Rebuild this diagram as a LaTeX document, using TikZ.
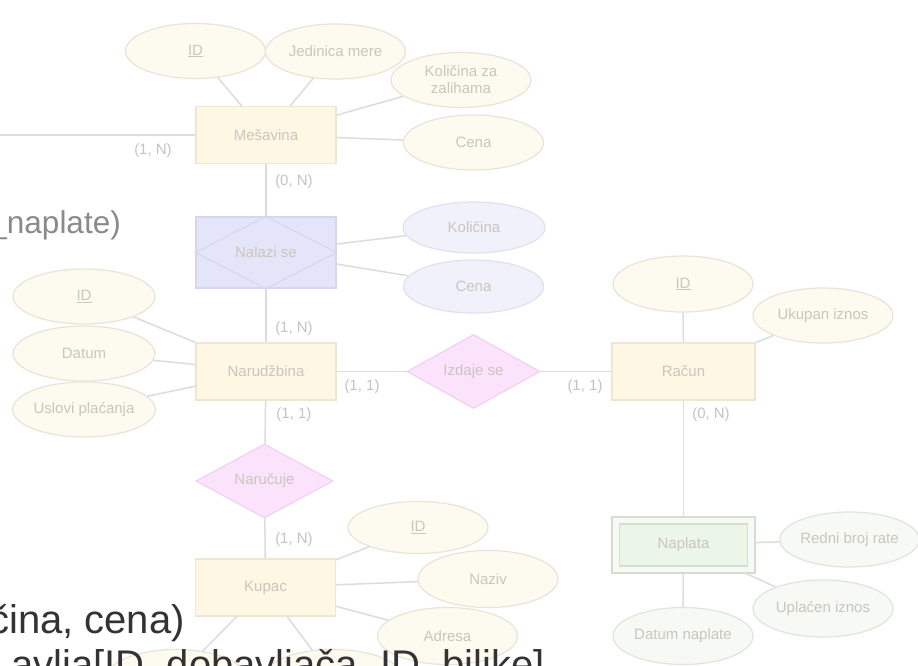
\documentclass[tikz,border=0pt]{standalone}
\usepackage{fontspec}
\setmainfont{Liberation Sans}
\usetikzlibrary{shapes.geometric}
\definecolor{linecol}{HTML}{DCDCDC}
\definecolor{entfill}{HTML}{FDF7E4}
\definecolor{entdraw}{HTML}{ECE6D2}
\definecolor{attfill}{HTML}{FDFAEF}
\definecolor{attdraw}{HTML}{E8E4D8}
\definecolor{lavfill}{HTML}{E5E5FA}
\definecolor{lavdraw}{HTML}{D6D6EE}
\definecolor{lavefill}{HTML}{F1F1FC}
\definecolor{lavedraw}{HTML}{E0E0F0}
\definecolor{pinkfill}{HTML}{FBE3FB}
\definecolor{pinkdraw}{HTML}{F0D2F0}
\definecolor{grnfill}{HTML}{EBF6E8}
\definecolor{grndraw}{HTML}{D4DED0}
\definecolor{grnefill}{HTML}{F6F9F4}
\definecolor{grnedraw}{HTML}{E0E5DC}
\definecolor{ntext}{HTML}{CAC6BE}
\definecolor{cardtext}{HTML}{C4C4C4}
\definecolor{graytxt}{HTML}{8A8A8A}
\definecolor{darktxt}{HTML}{333333}
\newcommand\erfont{\fontsize{15}{17}\selectfont}
\begin{document}
\begin{tikzpicture}[x=1pt,y=-1pt,
  ent/.style={draw=entdraw, fill=entfill, line width=1.2pt, minimum width=140pt, minimum height=57pt, inner sep=0pt, font=\erfont, text=ntext},
  att/.style={ellipse, draw=attdraw, fill=attfill, line width=1.2pt, minimum width=140pt, minimum height=55pt, inner sep=0pt, font=\erfont, text=ntext, align=center},
  latt/.style={att, draw=lavedraw, fill=lavefill},
  gatt/.style={att, draw=grnedraw, fill=grnefill},
  rel/.style={diamond, draw=pinkdraw, fill=pinkfill, line width=1.2pt, inner sep=0pt, font=\erfont, text=ntext},
  card/.style={font=\erfont, text=cardtext, inner sep=0pt},
  conn/.style={draw=linecol, line width=1.5pt}]
\useasboundingbox (0,0) rectangle (918,665);
\fill[white] (0,0) rectangle (918,665);

% entities
\node[ent] (mes) at (266,135) {Mešavina};
\node[ent, draw=lavdraw, fill=lavfill, minimum height=71pt] (nal) at (266,252.5) {};
\draw[draw=lavdraw, line width=1.2pt] (nal.west) -- (nal.north) -- (nal.east) -- (nal.south) -- cycle;
\node[font=\erfont, text=ntext, inner sep=0pt] (naltxt) at (nal.center) {Nalazi se};
\node[ent] (nar) at (266,371.5) {Narudžbina};
\node[ent, minimum width=143pt] (rac) at (683.5,371.5) {Račun};
\node[ent] (kup) at (265.5,587.5) {Kupac};
\node[ent, draw=grndraw, fill=grnefill, minimum width=143pt, minimum height=56pt] (napl) at (683.5,545) {};
\node[ent, draw=grndraw, fill=grnfill, minimum width=128pt, minimum height=42pt] (naplin) at (683.5,545) {Naplata};

% relationships
\node[rel, minimum width=133pt, minimum height=57pt] (izd) at (473.5,371.5) {Izdaje se};
\node[rel, minimum width=137pt, minimum height=52pt] (naru) at (264.5,481) {Naručuje};

% attributes
\node[att] (id1) at (195.5,51) {\underline{ID}};
\node[att] (jed) at (335.5,51.5) {Jedinica mere};
\node[att] (kol) at (461,80) {Količina za\\zalihama};
\node[att] (cena1) at (473.5,142.5) {Cena};
\node[latt, minimum width=142pt, minimum height=51pt] (kolic) at (474,227.5) {Količina};
\node[latt, minimum height=53pt] (cena2) at (473.5,286.5) {Cena};
\node[att, minimum width=142pt] (id2) at (84,296.5) {\underline{ID}};
\node[att, minimum width=142pt] (dat) at (84,353.5) {Datum};
\node[att, minimum width=142pt] (usl) at (84,409.5) {Uslovi plaćanja};
\node[att, minimum height=56pt] (id3) at (683,284) {\underline{ID}};
\node[att] (uk) at (823,315.5) {Ukupan iznos};
\node[gatt, minimum width=138pt] (redni) at (849.5,539.5) {Redni broj rate};
\node[gatt, minimum height=57pt] (upl) at (823,608.5) {Uplaćen iznos};
\node[gatt, minimum height=57pt] (datn) at (683,636) {Datum naplate};
\node[att, minimum height=52pt] (id4) at (418,527.5) {\underline{ID}};
\node[att, minimum height=57pt] (naziv) at (488,579) {Naziv};
\node[att, minimum height=57pt] (adr) at (447.5,636) {Adresa};
\node[att, minimum height=57pt] (e1) at (176,678) {};
\node[att, minimum height=57pt] (e2) at (333,678) {};

% connectors
\coordinate (left) at (0,135);
\path[conn] (left) -- (mes);
\path[conn] (mes) -- (id1);
\path[conn] (mes) -- (jed);
\path[conn] (mes) -- (kol);
\path[conn] (mes) -- (cena1);
\path[conn] (mes) -- (nal);
\path[conn] (nal) -- (kolic);
\path[conn] (nal) -- (cena2);
\path[conn] (nal) -- (nar);
\path[conn] (nar) -- (id2);
\path[conn] (nar) -- (dat);
\path[conn] (nar) -- (usl);
\path[conn] (nar) -- (izd);
\path[conn] (izd) -- (rac);
\path[conn] (rac) -- (id3);
\path[conn] (rac) -- (uk);
\path[conn] (rac) -- (napl);
\path[conn] (napl) -- (redni);
\path[conn] (napl) -- (upl);
\path[conn] (napl) -- (datn);
\path[conn] (nar) -- (naru);
\path[conn] (naru) -- (kup);
\path[conn] (kup) -- (id4);
\path[conn] (kup) -- (naziv);
\path[conn] (kup) -- (adr);
\path[conn] (kup) -- (e1);
\path[conn] (kup) -- (e2);

% cardinalities
\node[card] (c1) at (153,151) {(1, N)};
\node[card] (c2) at (294,182) {(0, N)};
\node[card] (c3) at (294,329) {(1, N)};
\node[card] (c4) at (362,387) {(1, 1)};
\node[card] (c5) at (294,415) {(1, 1)};
\node[card] (c6) at (585,387) {(1, 1)};
\node[card] (c7) at (711,415) {(0, N)};
\node[card] (c8) at (294,540) {(1, N)};

% overlay texts
\node[anchor=base east, inner sep=0pt, font=\fontsize{31.5}{31.5}\selectfont, text=graytxt] (t1) at (121,233) {\_naplate)};
\node[anchor=base east, inner sep=0pt, font=\fontsize{40}{40}\selectfont, text=darktxt] (t2) at (185,633) {čina, cena)};
\node[anchor=base east, inner sep=0pt, font=\fontsize{40}{40}\selectfont, text=darktxt] (t3) at (545,678) {avlja[ID, dobavljača, ID\_biljke]};
\end{tikzpicture}
\end{document}
